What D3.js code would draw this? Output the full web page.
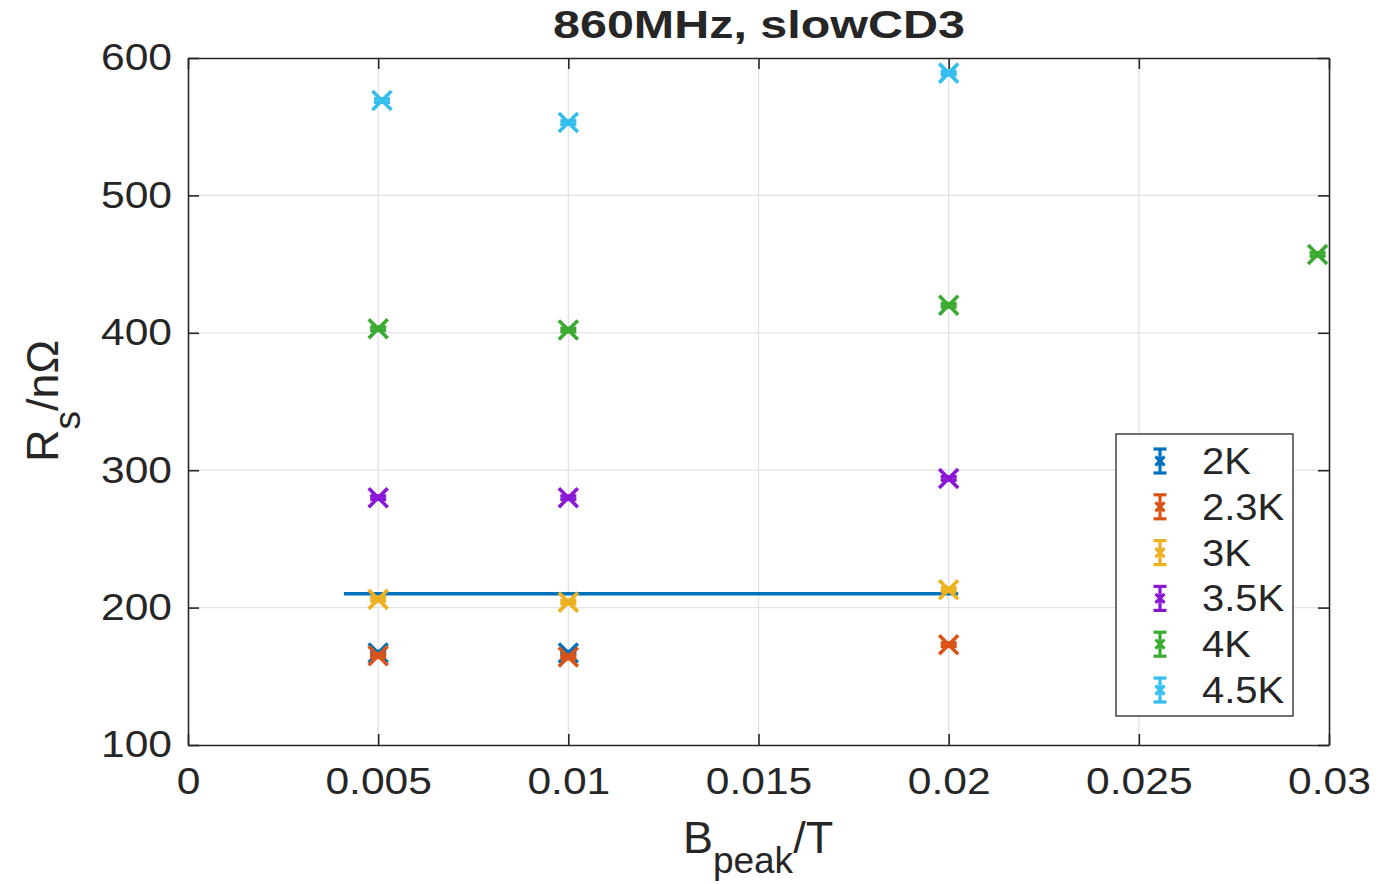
<!DOCTYPE html>
<html><head><meta charset="utf-8">
<script src="https://cdn.jsdelivr.net/npm/d3@7"></script>
<style>body{margin:0;background:#fff}svg{display:block}text{font-family:"Liberation Sans",Arial,sans-serif;fill:#262626}</style>
</head><body><svg id="c" width="1399" height="884"></svg>
<script>
const seriesNames = ["2K","2.3K","3K","3.5K","4K","4.5K"];
const seriesColors = ["#0072BD","#D95319","#EDB120","#8A17D6","#3BAA32","#33BEEE"];
const xs_2K = [0.005, 0.01];            const ys_2K = [167, 167];
const xs_23K = [0.005, 0.01, 0.02];     const ys_23K = [165, 164, 173];
const xs_3K = [0.005, 0.01, 0.02];      const ys_3K = [206, 204, 213];
const xs_35K = [0.005, 0.01, 0.02];     const ys_35K = [280, 280, 294];
const xs_4K = [0.005, 0.01, 0.02, 0.0297]; const ys_4K = [403, 402, 420, 457];
const xs_45K = [0.0051, 0.0100, 0.02];  const ys_45K = [569, 553, 589];
const errs = 1.2;
const fitLineX = [0.0041, 0.02025];
const fitLineY = [210, 210];
const xTicks = [0, 0.005, 0.01, 0.015, 0.02, 0.025, 0.03];
const xTickLabels = ["0","0.005","0.01","0.015","0.02","0.025","0.03"];
const yTicks = [100, 200, 300, 400, 500, 600];

const series = [
  {name:"2K", xs:xs_2K, ys:ys_2K},
  {name:"2.3K", xs:xs_23K, ys:ys_23K},
  {name:"3K", xs:xs_3K, ys:ys_3K},
  {name:"3.5K", xs:xs_35K, ys:ys_35K},
  {name:"4K", xs:xs_4K, ys:ys_4K},
  {name:"4.5K", xs:xs_45K, ys:ys_45K}
];

const svg = d3.select("#c");
const L=188, R=1329, T=58, B=745;
const x = d3.scaleLinear().domain([0,0.03]).range([L,R]);
const y = d3.scaleLinear().domain([100,600]).range([B,T]);
const axisCol = "#262626";

function widen(sel, f){
  sel.each(function(){
    const n = this.getComputedTextLength();
    d3.select(this).attr("textLength", n*f).attr("lengthAdjust","spacingAndGlyphs");
  });
}

// grid
const g = svg.append("g");
g.selectAll(".gx").data(xTicks.slice(1,-1)).join("line")
  .attr("x1",d=>x(d)).attr("x2",d=>x(d)).attr("y1",T).attr("y2",B)
  .attr("stroke","#e3e3e3").attr("stroke-width",1.3);
g.selectAll(".gy").data(yTicks.slice(1,-1)).join("line")
  .attr("y1",d=>y(d)).attr("y2",d=>y(d)).attr("x1",L).attr("x2",R)
  .attr("stroke","#e3e3e3").attr("stroke-width",1.3);

// axes
const xAxis = d3.axisBottom(x).tickValues(xTicks).tickFormat((d,i)=>xTickLabels[i]).tickSizeInner(-11).tickSizeOuter(0).tickPadding(23);
const yAxis = d3.axisLeft(y).tickValues(yTicks).tickSizeInner(-11).tickSizeOuter(0).tickPadding(16);
const xa = svg.append("g").attr("transform",`translate(0,${B})`).call(xAxis);
const ya = svg.append("g").attr("transform",`translate(${L},0)`).call(yAxis);
const xt = svg.append("g").attr("transform",`translate(0,${T})`).call(d3.axisTop(x).tickValues(xTicks).tickFormat("").tickSizeInner(-11).tickSizeOuter(0));
const yr = svg.append("g").attr("transform",`translate(${R},0)`).call(d3.axisRight(y).tickValues(yTicks).tickFormat("").tickSizeInner(-11).tickSizeOuter(0));
[xa,ya,xt,yr].forEach(a=>{
  a.select(".domain").attr("stroke",axisCol).attr("stroke-width",1.6);
  a.selectAll(".tick line").attr("stroke",axisCol).attr("stroke-width",1.6);
  a.selectAll("text").style("font-size","37px").attr("fill",axisCol);
});
widen(xa.selectAll("text"), 1.15);
widen(ya.selectAll("text"), 1.15);

// fit line
svg.append("line").attr("x1",x(fitLineX[0])).attr("x2",x(fitLineX[1]))
  .attr("y1",y(fitLineY[0])).attr("y2",y(fitLineY[1]))
  .attr("stroke","#0072BD").attr("stroke-width",3.5);

function marker(sel, cx, cy, col, s, ebTop, ebBot, cap, sw){
  const gg = sel.append("g").attr("stroke",col).attr("stroke-width",sw).attr("fill","none");
  gg.append("line").attr("x1",cx-s).attr("y1",cy-s).attr("x2",cx+s).attr("y2",cy+s);
  gg.append("line").attr("x1",cx-s).attr("y1",cy+s).attr("x2",cx+s).attr("y2",cy-s);
  gg.append("line").attr("x1",cx).attr("y1",ebTop).attr("x2",cx).attr("y2",ebBot);
  gg.append("line").attr("x1",cx-cap).attr("y1",ebTop).attr("x2",cx+cap).attr("y2",ebTop);
  gg.append("line").attr("x1",cx-cap).attr("y1",ebBot).attr("x2",cx+cap).attr("y2",ebBot);
}

series.forEach((s,i)=>{
  s.xs.forEach((xv,j)=>{
    const yv = s.ys[j];
    marker(svg, x(xv), y(yv), seriesColors[i], 9.5, y(yv+errs), y(yv-errs), 8, 3.6);
  });
});

// title
const title = svg.append("text").attr("x",759).attr("y",38).attr("text-anchor","middle")
  .style("font-size","39px").style("font-weight","bold").text("860MHz, slowCD3");
title.attr("textLength",412).attr("lengthAdjust","spacingAndGlyphs");

// x label
const xl = svg.append("text").attr("x",758).attr("y",853).attr("text-anchor","middle").style("font-size","45px");
xl.append("tspan").text("B");
xl.append("tspan").attr("dy",20).style("font-size","37px").text("peak");
xl.append("tspan").attr("dy",-20).text("/T");

// y label
const yl = svg.append("text").attr("transform","translate(58,401) rotate(-90)").attr("text-anchor","middle").style("font-size","45px");
yl.append("tspan").text("R");
yl.append("tspan").attr("dy",22).style("font-size","37px").text("s");
yl.append("tspan").attr("dy",-22).text("/nΩ");

// legend
const lg = svg.append("g");
lg.append("rect").attr("x",1116).attr("y",434).attr("width",177).attr("height",282)
  .attr("fill","#fff").attr("stroke","#262626").attr("stroke-width",1.3);
seriesNames.forEach((n,i)=>{
  const cy = 461 + i*45.8;
  marker(lg, 1160, cy, seriesColors[i], 4.5, cy-12, cy+12, 6.5, 3.2);
  const t = lg.append("text").attr("x",1202).attr("y",cy+13).style("font-size","37px").text(n);
  widen(t, 1.08);
});
</script></body></html>
